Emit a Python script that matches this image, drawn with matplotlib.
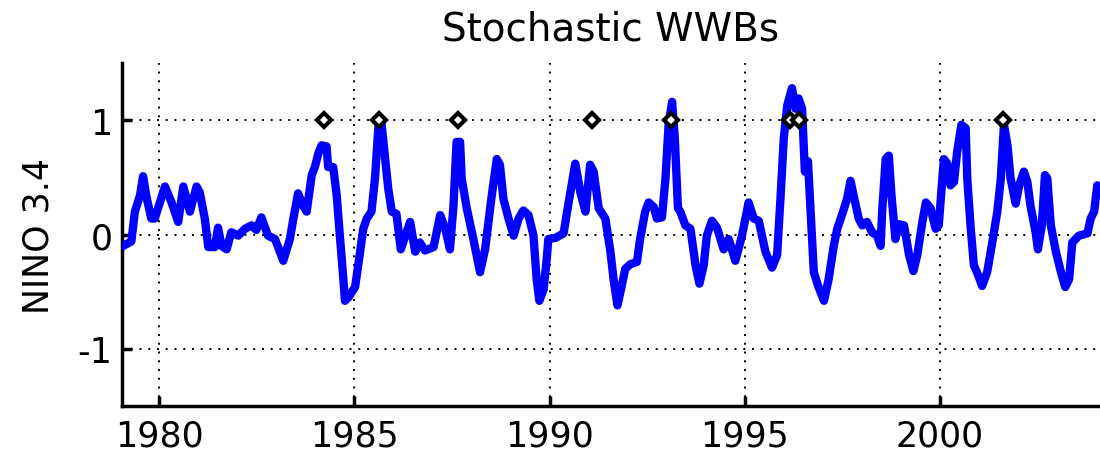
import numpy as np
import matplotlib
matplotlib.use('Agg')
import matplotlib.pyplot as plt

# NINO 3.4 trace
years = [1979.05, 1979.08, 1979.29, 1979.38, 1979.51, 1979.59, 1979.67, 1979.80, 1979.89,
         1980.15, 1980.32, 1980.49, 1980.62, 1980.79, 1980.96, 1981.04, 1981.17, 1981.26,
         1981.43, 1981.51, 1981.60, 1981.73, 1981.85, 1982.03, 1982.20, 1982.37, 1982.49,
         1982.62, 1982.79, 1982.97, 1983.18, 1983.35, 1983.44, 1983.56, 1983.69, 1983.78,
         1983.91, 1983.99, 1984.08, 1984.16, 1984.29, 1984.33, 1984.46, 1984.55, 1984.63,
         1984.72, 1984.76, 1984.85, 1985.02, 1985.10, 1985.23, 1985.32, 1985.44, 1985.53,
         1985.62, 1985.70, 1985.79, 1985.87, 1985.96, 1986.08, 1986.19, 1986.43, 1986.56,
         1986.68, 1986.81, 1987.03, 1987.20, 1987.33, 1987.45, 1987.54, 1987.62, 1987.71,
         1987.75, 1987.88, 1988.05, 1988.22, 1988.35, 1988.52, 1988.65, 1988.73, 1988.82,
         1988.95, 1989.08, 1989.21, 1989.33, 1989.46, 1989.59, 1989.67, 1989.74, 1989.85,
         1989.93, 1989.97, 1990.15, 1990.36, 1990.49, 1990.66, 1990.79, 1990.92, 1991.04,
         1991.13, 1991.26, 1991.43, 1991.56, 1991.64, 1991.74, 1991.85, 1991.94, 1992.07,
         1992.24, 1992.32, 1992.45, 1992.54, 1992.67, 1992.75, 1992.88, 1992.97, 1993.05,
         1993.14, 1993.21, 1993.29, 1993.35, 1993.48, 1993.61, 1993.74, 1993.84, 1993.95,
         1994.03, 1994.16, 1994.29, 1994.46, 1994.59, 1994.76, 1994.93, 1995.10, 1995.23,
         1995.36, 1995.53, 1995.70, 1995.83, 1995.92, 1996.00, 1996.09, 1996.21, 1996.30,
         1996.38, 1996.47, 1996.54, 1996.62, 1996.68, 1996.77, 1996.88, 1997.03, 1997.15,
         1997.28, 1997.37, 1997.49, 1997.62, 1997.71, 1997.79, 1997.92, 1998.01, 1998.13,
         1998.26, 1998.39, 1998.48, 1998.52, 1998.61, 1998.69, 1998.76, 1998.86, 1998.95,
         1999.08, 1999.21, 1999.32, 1999.42, 1999.55, 1999.64, 1999.76, 1999.89, 1999.97,
         2000.10, 2000.19, 2000.27, 2000.36, 2000.44, 2000.55, 2000.66, 2000.70, 2000.79,
         2000.87, 2000.96, 2001.08, 2001.21, 2001.34, 2001.47, 2001.56, 2001.64, 2001.73,
         2001.81, 2001.94, 2002.03, 2002.15, 2002.24, 2002.32, 2002.45, 2002.51, 2002.61,
         2002.69, 2002.75, 2002.84, 2002.97, 2003.10, 2003.21, 2003.31, 2003.39, 2003.56,
         2003.78, 2003.86, 2003.95, 2004.03]
nino34 = [-0.10, -0.10, -0.06, 0.20, 0.34, 0.51, 0.34, 0.14, 0.14,
          0.42, 0.28, 0.11, 0.42, 0.20, 0.42, 0.37, 0.14, -0.11,
          -0.11, 0.06, -0.10, -0.13, 0.02, -0.01, 0.05, 0.08, 0.04,
          0.15, -0.01, -0.04, -0.23, -0.04, 0.14, 0.36, 0.25, 0.20,
          0.52, 0.59, 0.71, 0.78, 0.77, 0.59, 0.59, 0.34, -0.01,
          -0.39, -0.58, -0.55, -0.46, -0.27, 0.05, 0.14, 0.20, 0.49,
          0.96, 0.96, 0.66, 0.40, 0.20, 0.18, -0.13, 0.11, -0.15,
          -0.07, -0.14, -0.11, 0.17, 0.05, -0.13, 0.25, 0.81, 0.81,
          0.49, 0.23, -0.04, -0.33, -0.13, 0.34, 0.66, 0.61, 0.31,
          0.14, -0.01, 0.14, 0.21, 0.17, -0.01, -0.39, -0.58, -0.48,
          -0.21, -0.04, -0.03, 0.01, 0.28, 0.62, 0.37, 0.20, 0.61,
          0.55, 0.23, 0.14, -0.15, -0.39, -0.62, -0.45, -0.30, -0.26,
          -0.24, -0.04, 0.20, 0.28, 0.24, 0.14, 0.15, 0.49, 0.96,
          1.16, 0.84, 0.23, 0.20, 0.08, 0.05, -0.27, -0.43, -0.27,
          -0.01, 0.12, 0.06, -0.13, -0.04, -0.23, -0.01, 0.28, 0.14,
          0.12, -0.15, -0.29, -0.18, 0.34, 0.84, 1.13, 1.28, 1.10,
          1.19, 1.10, 0.55, 0.64, 0.25, -0.33, -0.45, -0.58, -0.39,
          -0.10, 0.05, 0.17, 0.31, 0.47, 0.34, 0.14, 0.08, 0.11,
          0.02, -0.01, -0.10, 0.20, 0.66, 0.69, 0.34, -0.04, 0.09,
          0.08, -0.18, -0.32, -0.18, 0.11, 0.28, 0.23, 0.05, 0.08,
          0.66, 0.62, 0.43, 0.46, 0.72, 0.96, 0.93, 0.49, 0.05,
          -0.27, -0.34, -0.45, -0.33, -0.07, 0.20, 0.49, 0.96, 0.78,
          0.49, 0.27, 0.43, 0.55, 0.46, 0.25, 0.02, -0.13, 0.08,
          0.52, 0.49, 0.08, -0.15, -0.33, -0.46, -0.39, -0.07, -0.01,
          0.01, 0.14, 0.20, 0.43]

# WWB event times (plotted at NINO 3.4 = 1)
wwb_years = [1984.22, 1985.63, 1987.66, 1991.08, 1993.12, 1996.16, 1996.39, 2001.62]
wwb_level = [1, 1, 1, 1, 1, 1, 1, 1]

xticks = [1980, 1985, 1990, 1995, 2000]
yticks = [-1, 0, 1]

fig = plt.figure(figsize=(11, 4.52), dpi=100)
ax = fig.add_axes([122/1100, 1 - 407/452, 978/1100, 343/452])

ax.plot(years, nino34, color=(0, 0, 1), lw=6, solid_joinstyle='round',
        solid_capstyle='round', zorder=3)
ax.plot(wwb_years, wwb_level, ls='none', marker='D', ms=7, mfc='white',
        mec='black', mew=3, zorder=4)

ax.set_xlim(1979.05, 2004.1)
ax.set_ylim(-1.5, 1.5)
ax.set_xticks(xticks)
ax.set_yticks(yticks)
ax.set_yticklabels(['-1', '0', '1'])

ax.grid(True, color='black', linestyle=(0, (1, 3.5)), lw=1.4)
for s in ['top', 'right']:
    ax.spines[s].set_visible(False)
for s in ['left', 'bottom']:
    ax.spines[s].set_linewidth(2.5)

ax.tick_params(direction='in', length=7, width=2.5, labelsize=25)
ax.tick_params(axis='x', pad=9)
ax.tick_params(axis='y', pad=7)

ax.set_title('Stochastic WWBs', fontsize=28, pad=17)
ax.set_ylabel('NINO 3.4', fontsize=25)
ax.yaxis.set_label_coords(-0.068, 0.5)

fig.savefig('out.png', dpi=100)
